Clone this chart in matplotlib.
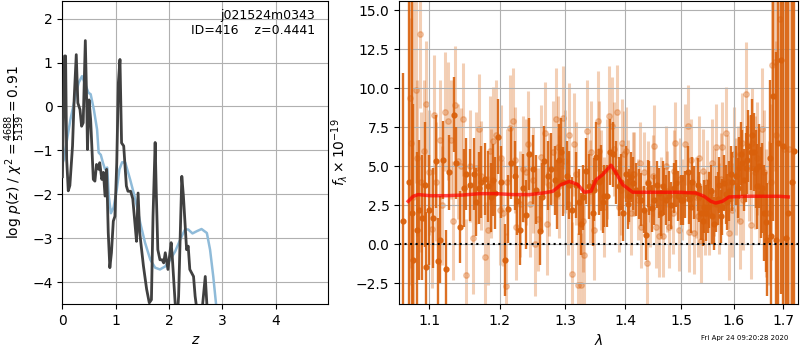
import matplotlib
matplotlib.use('Agg')
import matplotlib.pyplot as plt
from matplotlib.ticker import NullLocator, FixedLocator, FixedFormatter

# log p(z) curves
z_pz = [0.0, 0.04, 0.06, 0.08, 0.11, 0.14, 0.19, 0.22, 0.26, 0.29, 0.33, 0.36, 0.39, 0.43, 0.46,
        0.47, 0.5, 0.53, 0.58, 0.61, 0.64, 0.68, 0.7, 0.74, 0.77, 0.8, 0.83, 0.86, 0.89, 0.92,
        0.955, 0.985, 1.02, 1.05, 1.08, 1.11, 1.15, 1.2, 1.23, 1.28, 1.32, 1.36, 1.39, 1.42,
        1.45, 1.52, 1.58, 1.63, 1.67, 1.7, 1.74, 1.76, 1.79, 1.83, 1.87, 1.9, 1.93, 1.98, 2.04,
        2.06, 2.115, 2.15, 2.18, 2.24, 2.27, 2.33, 2.36, 2.39, 2.46, 2.49, 2.52, 2.6, 2.68,
        2.71, 2.75]
logp = [-1.6, 1.15, 1.15, -1.2, -1.92, -1.8, -0.9, 0.15, 1.18, 0.08, -0.07, -0.45, -0.37, 1.5,
        -0.15, -0.98, 0.15, -0.3, -1.66, -1.7, -1.32, -1.43, -1.28, -1.66, -1.5, -2.04, -1.43,
        -2.87, -3.67, -3.33, -2.61, -2.5, -1.28, 0.54, 1.07, -0.83, -0.9, -1.81, -1.93, -1.93,
        -2.1, -2.65, -3.07, -1.97, -2.87, -3.63, -4.16, -4.47, -4.4, -2.5, -0.82, -1.9, -3.26,
        -3.49, -3.49, -3.56, -3.33, -3.71, -3.1, -3.4, -4.47, -4.9, -4.32, -1.59, -2.04, -3.26,
        -3.18, -3.71, -3.87, -4.32, -4.6, -4.9, -3.87, -4.5, -5.2]
z_prior = [0.0, 0.025, 0.088, 0.15, 0.243, 0.305, 0.368, 0.43, 0.49, 0.53, 0.59, 0.65, 0.68,
           0.72, 0.76, 0.8, 0.84, 0.87, 0.91, 0.96, 1.02, 1.07, 1.12, 1.18, 1.27, 1.37, 1.46,
           1.55, 1.65, 1.74, 1.83, 1.93, 2.02, 2.115, 2.21, 2.3, 2.36, 2.44, 2.52, 2.61, 2.71,
           2.77, 2.83, 2.88, 2.92]
logp_prior = [-1.3, -1.21, -0.75, -0.3, 0.23, 0.54, 0.69, 0.5, 0.31, 0.28, -0.07, -0.52, -1.05,
              -1.1, -1.28, -1.43, -1.39, -2.04, -2.43, -2.3, -1.89, -1.43, -1.27, -1.28, -1.66,
              -2.12, -2.65, -3.1, -3.49, -3.67, -3.71, -3.64, -3.49, -3.3, -3.03, -2.8, -2.8,
              -2.89, -2.84, -2.79, -2.88, -3.26, -3.87, -4.47, -5.0]

# grism spectrum, first set (dark)
wave_a = [1.0655, 1.0730, 1.0840, 1.0866, 1.0910, 1.0941, 1.0963, 1.1000, 1.1054, 1.1091,
          1.1122, 1.1145, 1.1190, 1.1227, 1.1274, 1.1339, 1.1376, 1.1431, 1.1515, 1.1563,
          1.1620, 1.1658, 1.1729, 1.1777, 1.1826, 1.1865, 1.1898, 1.1971, 1.2020, 1.2069,
          1.2118, 1.2168, 1.2219, 1.2293, 1.2343, 1.2394, 1.2435, 1.2497, 1.2548, 1.2599,
          1.2676, 1.2728, 1.2780, 1.2833, 1.2911, 1.2964, 1.3028, 1.3071, 1.3114, 1.3179,
          1.3232, 1.3297, 1.3341, 1.3395, 1.3450, 1.3506, 1.3561, 1.3588, 1.3644, 1.3683,
          1.3739, 1.3784, 1.3841, 1.3897, 1.3954, 1.4011, 1.4069, 1.4127, 1.4185, 1.4271,
          1.4359, 1.4418, 1.4507, 1.4596, 1.4656, 1.4716, 1.4776, 1.4867, 1.4928, 1.4989,
          1.5031, 1.5112, 1.5174, 1.5237, 1.5299, 1.5361, 1.5424, 1.5455, 1.5519, 1.5583,
          1.5647, 1.5710, 1.5774, 1.5839, 1.5904, 1.5970, 1.6035, 1.6100, 1.6165, 1.6232,
          1.6286, 1.6332, 1.6399, 1.6467, 1.6533, 1.6601, 1.6669, 1.6717, 1.6786, 1.6841,
          1.6944, 1.6992, 1.7048, 1.7174]
flux_a = [1.46, 3.97, 0.9, 2.2, 1.7, 3.8, -1.45, 2.2, 1.7, 5.3,
          -1.1, 0.3, 5.4, -1.6, 4.6, 8.3, 5.2, 1.1, 4.5, 3.8,
          4.5, 2.7, 4.0, 4.2, 3.7, 3.0, 4.1, 6.9, 4.0, -1.0,
          2.25, 5.2, 4.4, 0.9, 3.6, 1.9, 5.8, 4.8, 3.5, 0.86,
          5.3, 4.4, 4.8, 4.1, 5.4, 4.0, 4.4, 3.8, 2.2, 3.8,
          2.7, 3.0, 4.7, 3.7, 2.0, 5.6, 4.0, 4.25, 3.1, 3.1,
          5.9, 5.75, 4.6, 3.7, 2.0, 4.5, 3.1, 3.9, 3.5, 2.85,
          0.6, 3.6, 2.85, 3.3, 3.7, 2.85, 3.1, 3.6, 3.1, 2.85,
          2.85, 4.6, 2.4, 3.3, 3.8, 2.0, 2.4, 2.0, 2.85, 1.8,
          2.6, 3.8, 2.4, 3.2, 3.4, 4.0, 4.4, 4.9, 5.2, 4.9,
          6.3, 5.9, 5.9, 3.7, 3.3, 2.0, 0.3, 5.5, 9.5, 0.3,
          11.8, 6.3, 0.4, 4.0]
err_a = [9.5, 14, 5.0, 4.5, 4.0, 4.0, 3.5, 3.5, 3.2, 3.0,
         2.8, 2.8, 2.5, 2.5, 2.4, 2.4, 2.3, 2.3, 2.3, 2.3,
         2.3, 2.2, 2.3, 2.3, 2.3, 2.2, 2.3, 2.4, 2.3, 2.3,
         2.2, 2.3, 2.2, 2.2, 2.2, 2.2, 2.3, 2.2, 2.2, 2.2,
         2.3, 2.2, 2.3, 2.2, 2.3, 2.2, 2.2, 2.2, 2.1, 2.1,
         2.1, 2.1, 2.1, 2.1, 2.1, 2.2, 2.1, 2.1, 2.0, 2.0,
         2.1, 2.1, 2.0, 1.9, 1.8, 1.8, 1.7, 1.7, 1.7, 1.7,
         1.6, 1.7, 1.6, 1.6, 1.6, 1.6, 1.6, 1.6, 1.6, 1.6,
         1.6, 1.7, 1.7, 1.7, 1.7, 1.7, 1.7, 1.8, 1.8, 1.8,
         1.8, 1.8, 1.8, 1.9, 1.9, 1.9, 1.9, 2.0, 2.1, 2.2,
         2.3, 2.4, 2.5, 2.7, 2.9, 3.1, 3.6, 5.0, 8.0, 12,
         15, 20, 20, 20]

# dark-set bars without a clear marker in the picture
wave_a_more = [1.0768, 1.0790, 1.1480, 1.1701, 1.1935, 1.2260, 1.2638, 1.2870, 1.2940, 1.3253,
               1.3470, 1.3620, 1.3918, 1.4040, 1.4100, 1.4230, 1.4320, 1.4390, 1.4460, 1.4560,
               1.4630, 1.4690, 1.4810, 1.4900, 1.5060, 1.5140, 1.5200, 1.5330, 1.5395, 1.5490,
               1.5550, 1.5615, 1.5680, 1.5740, 1.5810, 1.5870, 1.5940, 1.6070, 1.6135, 1.6200,
               1.6260, 1.6360, 1.6430, 1.6500, 1.6570, 1.6640, 1.6750, 1.6880, 1.7100, 1.7230]
flux_a_more = [2.0, -1.0, 3.6, 3.6, 3.3, 2.8, 3.0, 3.2, 5.9, 1.3,
               3.5, 2.7, 4.0, 2.6, 4.3, 3.2, 2.2, 3.9, 2.3, 3.8,
               2.0, 3.4, 2.5, 3.9, 3.2, 2.9, 4.0, 3.0, 1.5, 2.4,
               3.4, 1.3, 2.9, 1.8, 3.9, 2.7, 4.5, 3.6, 5.8, 4.1,
               5.4, 7.0, 4.8, 5.0, 3.6, 1.4, 0.5, 6.5, 2.0, 6.0]
err_a_more = [16, 10, 2.5, 2.3, 2.3, 2.2, 2.2, 2.2, 2.2, 2.0,
              2.0, 2.0, 1.8, 1.6, 1.6, 1.6, 1.5, 1.5, 1.5, 1.5,
              1.5, 1.5, 1.5, 1.5, 1.5, 1.6, 1.6, 1.6, 1.6, 1.7,
              1.7, 1.7, 1.7, 1.7, 1.8, 1.8, 1.8, 1.9, 2.0, 2.0,
              2.2, 2.3, 2.5, 2.7, 2.9, 3.2, 6, 15, 20, 20]

# grism spectrum, second set (light)
wave_b = [1.0743, 1.0756, 1.0818, 1.0840, 1.0875, 1.0897, 1.0963, 1.1000, 1.1063, 1.1100,
          1.1145, 1.1213, 1.1260, 1.1306, 1.1353, 1.1399, 1.1445, 1.1506, 1.1563, 1.1610,
          1.1658, 1.1729, 1.1777, 1.1826, 1.1874, 1.1898, 1.1947, 1.1995, 1.2044, 1.2084,
          1.2143, 1.2188, 1.2244, 1.2293, 1.2343, 1.2394, 1.2445, 1.2497, 1.2574, 1.2625,
          1.2691, 1.2754, 1.2806, 1.2859, 1.2911, 1.2964, 1.3044, 1.3071, 1.3109, 1.3141,
          1.3205, 1.3259, 1.3313, 1.3357, 1.3423, 1.3478, 1.3533, 1.3588, 1.3644, 1.3717,
          1.3773, 1.3813, 1.3886, 1.3943, 1.3983, 1.4040, 1.4098, 1.4156, 1.4214, 1.4271,
          1.4330, 1.4371, 1.4430, 1.4477, 1.4537, 1.4596, 1.4656, 1.4716, 1.4776, 1.4837,
          1.4886, 1.4946, 1.5019, 1.5068, 1.5112, 1.5174, 1.5237, 1.5299, 1.5361, 1.5405,
          1.5474, 1.5519, 1.5583, 1.5647, 1.5710, 1.5774, 1.5852, 1.5904, 1.5970, 1.6035,
          1.6113, 1.6185, 1.6245, 1.6299, 1.6366, 1.6420, 1.6500, 1.6567, 1.6635, 1.6703,
          1.6772, 1.6855, 1.6923, 1.7013, 1.7118]
flux_b = [9.4, 6.5, 9.9, 5.5, 13.5, 4.0, 9.0, 4.6, 8.3, 4.0,
          6.7, 8.5, 7.9, 6.7, 8.9, 5.3, 5.0, -2.0, 5.0, 0.4,
          4.9, 4.4, -0.8, 0.9, 3.9, 6.6, 7.0, 2.2, 2.0, -2.7,
          7.45, 7.9, 1.1, 2.6, 4.8, 4.6, 2.6, 4.1, 1.6, 5.6,
          7.1, 3.8, 5.9, 8.0, 3.7, 8.1, 2.6, 7.0, -1.9, 6.4,
          -2.6, -2.6, -0.7, 7.25, 5.9, 0.9, 7.9, 4.1, 2.4, 8.2,
          7.6, 6.1, 2.4, 6.5, 5.75, 4.0, 2.0, 4.5, 2.85, 1.1,
          4.6, -1.2, 2.4, 4.4, 1.1, 0.5, 0.5, 5.0, 1.1, 2.0,
          6.5, 0.9, 2.85, 6.4, 7.6, 5.4, 0.7, 1.8, 0.2, 4.7,
          4.0, 2.0, 5.2, 6.2, 2.3, 6.2, 7.1, 0.7, 2.2, 3.7,
          1.5, 2.85, 9.65, 4.9, 6.5, 4.6, 3.7, 7.4, 2.0, 2.0,
          11.5, 7.0, 14.4, 6.1, 6.1]
err_b = [12, 8, 6, 5, 4.8, 4.5, 4.0, 4.0, 3.8, 3.8,
         3.8, 3.8, 3.8, 3.8, 3.8, 3.7, 3.7, 3.6, 3.6, 3.6,
         3.6, 3.5, 3.5, 3.5, 3.5, 3.5, 3.5, 3.5, 3.4, 3.4,
         3.4, 3.4, 3.4, 3.4, 3.4, 3.4, 3.4, 3.4, 3.3, 3.3,
         3.3, 3.3, 3.3, 3.3, 3.3, 3.3, 3.3, 3.3, 3.3, 3.3,
         3.3, 3.3, 3.3, 3.3, 3.3, 3.2, 3.2, 3.2, 3.2, 3.2,
         3.1, 3.0, 2.9, 2.8, 2.8, 2.7, 2.7, 2.7, 2.6, 2.6,
         2.6, 2.6, 2.6, 2.6, 2.6, 2.6, 2.6, 2.6, 2.6, 2.6,
         2.6, 2.6, 2.6, 2.6, 2.6, 2.6, 2.6, 2.6, 2.7, 2.7,
         2.7, 2.7, 2.8, 2.8, 2.9, 2.9, 3.0, 3.0, 3.0, 3.1,
         3.1, 3.2, 3.3, 3.4, 3.5, 3.6, 3.7, 3.9, 4.1, 4.6,
         5, 6, 8, 12, 15]

# light-set bars without a clear marker in the picture
wave_b_more = [1.0790, 1.0925, 1.1040, 1.1180, 1.1330, 1.1470, 1.1690, 1.1850, 1.2010, 1.2110,
               1.2220, 1.2420, 1.2530, 1.2720, 1.2890, 1.3000, 1.3180, 1.3290, 1.3400, 1.3560,
               1.3680, 1.3850, 1.3920, 1.4010, 1.4130, 1.4250, 1.4400, 1.4500, 1.4620, 1.4740,
               1.4860, 1.4980, 1.5140, 1.5270, 1.5330, 1.5440, 1.5610, 1.5740, 1.5880, 1.6000,
               1.6080, 1.6160, 1.6330, 1.6460, 1.6600, 1.6740, 1.6830]
flux_b_more = [3.0, 6.0, 1.0, 2.5, 1.5, 8.0, 7.4, 6.0, 5.5, 4.0,
               5.4, 6.4, 0.0, 1.3, 6.2, 5.3, 4.5, 1.5, 3.4, 6.0,
               4.8, 8.5, 3.5, 6.0, 4.5, 5.2, 4.0, 6.3, 3.0, 3.4,
               4.7, 4.2, 0.8, 3.0, 5.5, 2.0, 3.3, 4.2, 4.0, 5.8,
               4.5, 6.5, 1.2, 5.5, 4.6, 4.0, 11.7]
err_b_more = [14, 4.5, 3.8, 3.8, 3.8, 3.6, 3.5, 3.5, 3.4, 3.4,
              3.4, 3.4, 3.3, 3.3, 3.3, 3.3, 3.3, 3.3, 3.3, 3.2,
              3.2, 3.0, 2.9, 2.8, 2.7, 2.6, 2.6, 2.6, 2.6, 2.6,
              2.6, 2.6, 2.6, 2.6, 2.7, 2.7, 2.8, 2.9, 3.0, 3.0,
              3.1, 3.2, 3.4, 3.6, 4.0, 5, 7]

# best-fit model
model_wave = [1.0721, 1.0787, 1.0853, 1.1009, 1.1236, 1.1468, 1.1705, 1.1947, 1.2193, 1.2445,
              1.2650, 1.2806, 1.2938, 1.3071, 1.3205, 1.3313, 1.3423, 1.3506, 1.3616, 1.3756,
              1.3841, 1.3954, 1.4127, 1.4359, 1.4656, 1.4958, 1.5268, 1.5424, 1.5551, 1.5647,
              1.5774, 1.5904, 1.6232, 1.6567, 1.6910, 1.7104]
model_flux = [2.75, 3.07, 3.18, 3.11, 3.11, 3.15, 3.24, 3.24, 3.18, 3.18,
              3.28, 3.39, 3.82, 4.03, 3.82, 3.33, 3.39, 4.13, 4.46, 5.06,
              4.57, 3.82, 3.33, 3.33, 3.33, 3.33, 3.28, 3.07, 2.75, 2.64,
              2.75, 3.03, 3.07, 3.07, 3.07, 3.03]

lam_ticks = [1.1, 1.2, 1.3, 1.4, 1.5, 1.6, 1.7]
grism_color = '#d9600b'

fig = plt.figure(figsize=(8, 3.5), dpi=100)

ax = fig.add_axes([0.078, 0.131, 0.3325, 0.866])
ax.plot(z_pz, logp, color='0.25', lw=2, zorder=3)
ax.plot(z_prior, logp_prior, color='#8fbbd9', lw=1.8, zorder=2)
ax.set_xlim(0, 4.99)
ax.set_ylim(-4.5, 2.4)
ax.set_xticks([0, 1, 2, 3, 4])
ax.set_yticks([-4, -3, -2, -1, 0, 1, 2])
ax.grid(True)
ax.set_xlabel('$z$')
ax.set_ylabel(r'log $p(z)$ / $\chi^2=\frac{4688}{5139}=0.91$')
ax.text(0.95, 0.975, 'j021524m0343\nID=416    z=0.4441', transform=ax.transAxes,
        ha='right', va='top', fontsize=9)

ax2 = fig.add_axes([0.499, 0.131, 0.4985, 0.866])
ax2.errorbar(wave_b + wave_b_more, flux_b + flux_b_more, yerr=err_b + err_b_more, fmt='o',
             color=grism_color, ms=4, elinewidth=2.2, alpha=0.3, zorder=1)
ax2.errorbar(wave_a + wave_a_more, flux_a + flux_a_more, yerr=err_a + err_a_more, fmt='o',
             color=grism_color, ms=3.5, elinewidth=1.7, alpha=0.9, zorder=2)
ax2.plot(model_wave, model_flux, color='red', lw=2.5, alpha=0.7, zorder=4)
ax2.plot([1.0603, 1.731], [0, 0], 'k:', lw=1.5, zorder=5)
ax2.set_xscale('log')
ax2.xaxis.set_major_locator(FixedLocator(lam_ticks))
ax2.xaxis.set_major_formatter(FixedFormatter([str(t) for t in lam_ticks]))
ax2.xaxis.set_minor_locator(NullLocator())
ax2.set_xlim(1.0603, 1.731)
ax2.set_ylim(-3.84, 15.58)
ax2.set_yticks([-2.5, 0, 2.5, 5, 7.5, 10, 12.5, 15])
ax2.grid(True)
ax2.set_xlabel(r'$\lambda$')
ax2.set_ylabel(r'$f_\lambda\times10^{-19}$')

fig.text(0.985, 0.025, 'Fri Apr 24 09:20:28 2020', ha='right', va='bottom', fontsize=5)

fig.savefig('out.png', dpi=100)
